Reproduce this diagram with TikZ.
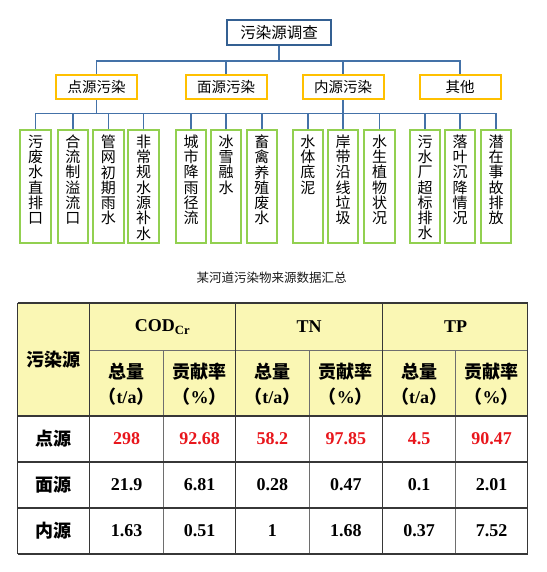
\documentclass[tikz,border=0pt]{standalone}
\usepackage{fontspec}
\setmainfont{Liberation Serif}
\newfontfamily\cjk{Noto Sans CJK SC}
\newcommand\song{\cjk}
\newcommand\hei{\cjk\bfseries}
\newcommand\heir{\cjk}
\definecolor{lineblue}{RGB}{68,114,168}
\definecolor{rootblue}{RGB}{52,96,146}
\definecolor{gold}{RGB}{255,192,0}
\definecolor{leafgreen}{RGB}{146,208,80}
\definecolor{hdr}{RGB}{250,247,180}
\definecolor{numred}{RGB}{232,22,28}
\definecolor{tline}{RGB}{55,55,55}
\definecolor{vline}{RGB}{110,110,110}
\newcommand\vt[1]{\parbox[c][104pt][t]{20pt}{\centering\song\fontsize{15}{15.3}\selectfont #1}}
\tikzset{
  conn/.style={draw=lineblue, line width=1.5pt},
  rootbox/.style={draw=rootblue, line width=2pt, minimum width=104pt, minimum height=25pt, inner sep=0pt, font=\song\fontsize{15.5}{16}\selectfont},
  midbox/.style={draw=gold, line width=2pt, minimum width=81pt, minimum height=24pt, inner sep=0pt, font=\song\fontsize{14.5}{16}\selectfont},
  leaf/.style={draw=leafgreen, line width=2pt, minimum width=30.5pt, minimum height=112.5pt, inner sep=0pt, anchor=north},
  thick line/.style={draw=tline, line width=2.2pt},
  mid line/.style={draw=tline, line width=1.2pt},
  thin line/.style={draw=vline, line width=0.9pt},
  cn/.style={font=\fontsize{18}{20}\selectfont\bfseries, inner sep=0pt},
  ch/.style={font=\hei\fontsize{18}{20}\selectfont, inner sep=0pt},
  hh/.style={font=\fontsize{18}{25.6}\selectfont, align=center, inner sep=0pt},
}
\begin{document}
\begin{tikzpicture}[x=1pt,y=-1pt]
\useasboundingbox (0,0) rectangle (546,572);
% ---------- tree ----------
\node[rootbox] (root) at (279,32.5) {污染源调查};
\node[midbox] (p) at (96.5,87) {点源污染};
\node[midbox] (m) at (226,87) {面源污染};
\node[midbox] (n) at (343,87) {内源污染};
\node[midbox] (o) at (460,87) {其他};
\coordinate (b1) at (279,61);
\coordinate (b2) at (279,113.5);
\draw[conn] (root.south) -- (b1);
\draw[conn] (p.north) -- (p.north |- b1) -- (o.north |- b1) -- (o.north);
\draw[conn] (m.north) -- (m.north |- b1);
\draw[conn] (n.north) -- (n.north |- b1);
\node[leaf] (l1) at (35.5,129.5) {\vt{污\\废\\水\\直\\排\\口}};
\node[leaf] (l2) at (72.8,129.5) {\vt{合\\流\\制\\溢\\流\\口}};
\node[leaf] (l3) at (108.3,129.5) {\vt{管\\网\\初\\期\\雨\\水}};
\node[leaf] (l4) at (143.5,129.5) {\vt{非\\常\\规\\水\\源\\补\\水}};
\node[leaf] (l5) at (191,129.5) {\vt{城\\市\\降\\雨\\径\\流}};
\node[leaf] (l6) at (226,129.5) {\vt{冰\\雪\\融\\水}};
\node[leaf] (l7) at (261.8,129.5) {\vt{畜\\禽\\养\\殖\\废\\水}};
\node[leaf] (l8) at (307.8,129.5) {\vt{水\\体\\底\\泥}};
\node[leaf] (l9) at (343,129.5) {\vt{岸\\带\\沿\\线\\垃\\圾}};
\node[leaf] (l10) at (379.7,129.5) {\vt{水\\生\\植\\物\\状\\况}};
\node[leaf] (l11) at (425,129.5) {\vt{污\\水\\厂\\超\\标\\排\\水}};
\node[leaf] (l12) at (460,129.5) {\vt{落\\叶\\沉\\降\\情\\况}};
\node[leaf] (l13) at (496,129.5) {\vt{潜\\在\\事\\故\\排\\放}};
\draw[conn] (p.south) -- (p.south |- b2);
\draw[conn] (n.south) -- (n.south |- b2);
\draw[conn] (l1.north) -- (l1.north |- b2) -- (l13.north |- b2) -- (l13.north);
\foreach \k in {2,...,12}{\draw[conn] (l\k.north) -- (l\k.north |- b2);}
% ---------- caption ----------
\node[font=\heir\fontsize{12.5}{14}\selectfont, text=black!90] (cap) at (271.5,278) {某河道污染物来源数据汇总};
% ---------- table ----------
\fill[hdr] (17.5,303) rectangle (527.5,416);
\draw[thin line] (89.5,350) -- (527.5,350);
\draw[thin line] (163.5,350) -- (163.5,554);
\draw[thin line] (309,350) -- (309,554);
\draw[thin line] (455.5,350) -- (455.5,554);
\draw[mid line] (89.5,303) -- (89.5,554);
\draw[mid line] (235.5,303) -- (235.5,554);
\draw[mid line] (382.5,303) -- (382.5,554);
\draw[mid line] (17.5,303) -- (17.5,554);
\draw[mid line] (527.5,303) -- (527.5,554);
\draw[mid line] (17.5,462) -- (527.5,462);
\draw[mid line] (17.5,508) -- (527.5,508);
\draw[thick line] (17.5,303) -- (527.5,303);
\draw[thick line] (17.5,416) -- (527.5,416);
\draw[thick line] (17.5,554) -- (527.5,554);
% header
\node[ch] (h0) at (53.5,360) {污染源};
\node[cn] (hc) at (162.5,327) {COD\textsubscript{Cr}};
\node[cn] (hn) at (309,327) {TN};
\node[cn] (hp) at (455.5,327) {TP};
\foreach \x/\nm in {126.5/a,272.25/b,419/c}{
  \node[hh] (q\nm) at (\x,384) {{\hei 总量}\\{\hei （}{\bfseries t/a}{\hei ）}};
}
\foreach \x/\nm in {199.5/a,345.75/b,491.5/c}{
  \node[hh] (r\nm) at (\x,384) {{\hei 贡献率}\\{\hei （}{\bfseries \%}{\hei ）}};
}
% rows
\node[ch] (s1) at (53.5,439) {点源};
\node[ch] (s2) at (53.5,485) {面源};
\node[ch] (s3) at (53.5,531) {内源};
\foreach \v [count=\i] in {298,92.68,58.2,97.85,4.5,90.47}{
  \pgfmathsetmacro\cx{{126.5,199.5,272.25,345.75,419,491.5}[\i-1]}
  \node[cn, text=numred] (da\i) at (\cx,439) {\v};
}
\foreach \v [count=\i] in {21.9,6.81,0.28,0.47,0.1,2.01}{
  \pgfmathsetmacro\cx{{126.5,199.5,272.25,345.75,419,491.5}[\i-1]}
  \node[cn] (db\i) at (\cx,485) {\v};
}
\foreach \v [count=\i] in {1.63,0.51,1,1.68,0.37,7.52}{
  \pgfmathsetmacro\cx{{126.5,199.5,272.25,345.75,419,491.5}[\i-1]}
  \node[cn] (dc\i) at (\cx,531) {\v};
}
\end{tikzpicture}
\end{document}
